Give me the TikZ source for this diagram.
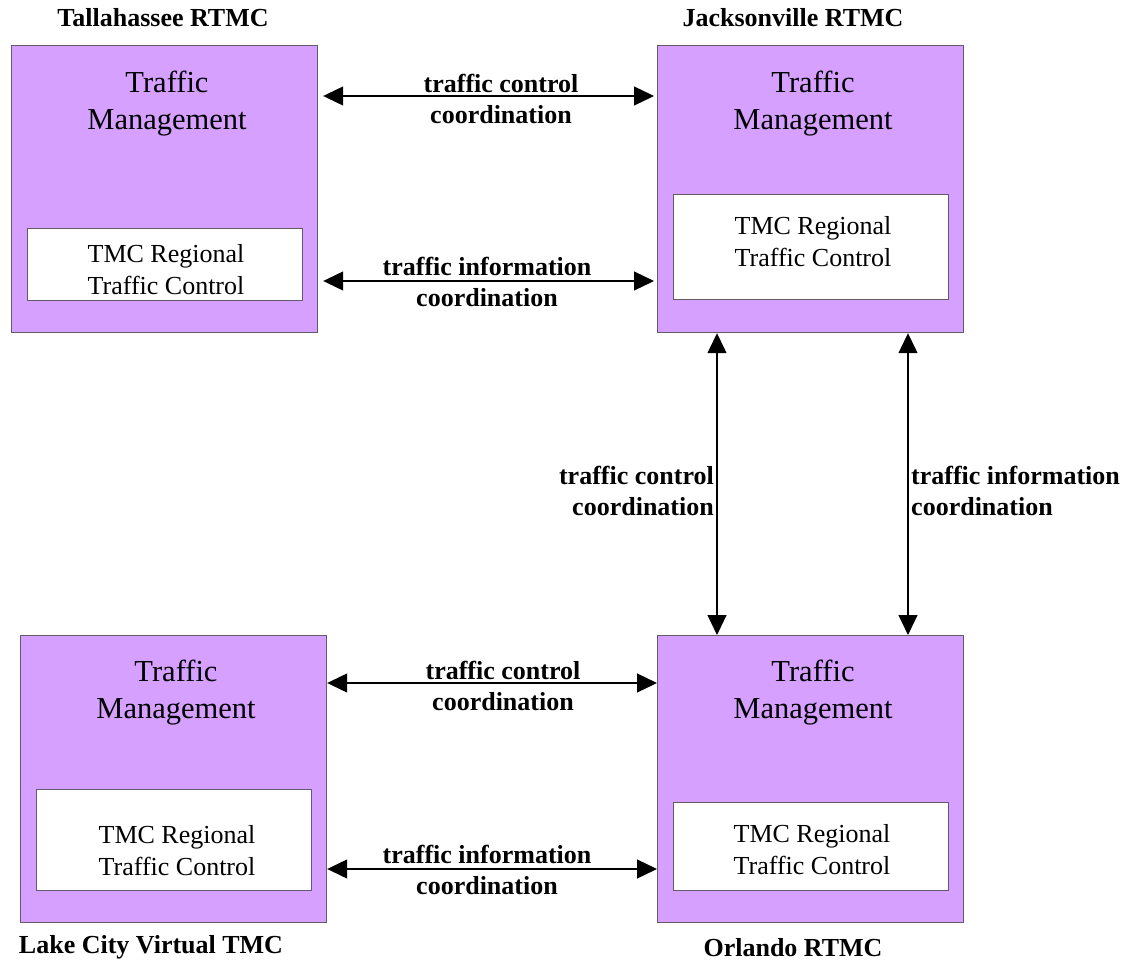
\documentclass[tikz,border=0pt]{standalone}
\usepackage{fontspec}
\setmainfont{Liberation Serif}
\usetikzlibrary{arrows.meta}
\definecolor{boxfill}{RGB}{213,160,255}
\definecolor{boxline}{RGB}{100,90,110}
\tikzset{
  outerbox/.style={draw=boxline, fill=boxfill, line width=1.2pt, inner sep=0pt, anchor=north west, minimum width=306pt, minimum height=287pt},
  innerbox/.style={draw=boxline, fill=white, line width=1.2pt, inner sep=0pt, anchor=north west, minimum width=275pt},
  tmtext/.style={font=\fontsize{30.5}{37}\selectfont, align=center, inner sep=0pt},
  intext/.style={font=\fontsize{26}{32}\selectfont, align=center, inner sep=0pt},
  titletext/.style={font=\fontsize{26}{31}\selectfont\bfseries, inner sep=0pt},
  lbl/.style={font=\fontsize{26}{31}\selectfont\bfseries, inner sep=0pt},
  conn/.style={{Triangle[length=20pt,width=19pt]}-{Triangle[length=20pt,width=19pt]}, line width=1.2pt}
}
\begin{document}
\begin{tikzpicture}[x=1pt,y=-1pt]
\useasboundingbox (0,0) rectangle (1130,963);
% outer boxes
\node[outerbox] (tal) at (11,45) {};
\node[outerbox] (jax) at (657,45) {};
\node[outerbox] (lak) at (20,635) {};
\node[outerbox] (orl) at (657,635) {};
% inner boxes
\node[innerbox, minimum height=72pt] (talin) at (27,228) {};
\node[innerbox, minimum height=105pt] (jaxin) at (673,194) {};
\node[innerbox, minimum height=101pt] (lakin) at (36,789) {};
\node[innerbox, minimum height=88pt] (orlin) at (673,802) {};
% box texts
\node[tmtext] (taltm) at (167,104) {Traffic\\Management};
\node[tmtext] (jaxtm) at (813,104) {Traffic\\Management};
\node[tmtext] (laktm) at (176,693) {Traffic\\Management};
\node[tmtext] (orltm) at (813,693) {Traffic\\Management};
\node[intext] (talit) at (166,270) {TMC Regional\\Traffic Control};
\node[intext] (jaxit) at (813,242) {TMC Regional\\Traffic Control};
\node[intext] (lakit) at (177,851) {TMC Regional\\Traffic Control};
\node[intext] (orlit) at (812,850) {TMC Regional\\Traffic Control};
% titles
\node[titletext] (talt) at (163,18) {Tallahassee RTMC};
\node[titletext] (jaxt) at (793,18) {Jacksonville RTMC};
\node[titletext] (lakt) at (151,947) {Lake City Virtual TMC};
\node[titletext] (orlt) at (793,948) {Orlando RTMC};
% connectors
\draw[conn, shorten <=5pt, shorten >=3pt] (tal.east |- 0,96) -- (jax.west |- 0,96);
\draw[conn, shorten <=5pt, shorten >=3pt] (tal.east |- 0,281) -- (jax.west |- 0,281);
\draw[conn] (lak.east |- 0,683) -- (orl.west |- 0,683);
\draw[conn] (lak.east |- 0,869) -- (orl.west |- 0,869);
\draw[conn] (jax.south -| 717,0) -- (orl.north -| 717,0);
\draw[conn] (jax.south -| 908,0) -- (orl.north -| 908,0);
% labels
\node[lbl, align=center] (l1) at (501,99) {traffic control\\ coordination};
\node[lbl, align=center] (l2) at (487,282) {traffic information\\coordination};
\node[lbl, align=center] (l3) at (503,686) {traffic control\\ coordination};
\node[lbl, align=center] (l4) at (487,870) {traffic information\\coordination};
\node[lbl, align=right, anchor=east] (l5) at (714,491) {traffic control\\coordination};
\node[lbl, align=left, anchor=west] (l6) at (911,491) {traffic information\\coordination};
\end{tikzpicture}
\end{document}
